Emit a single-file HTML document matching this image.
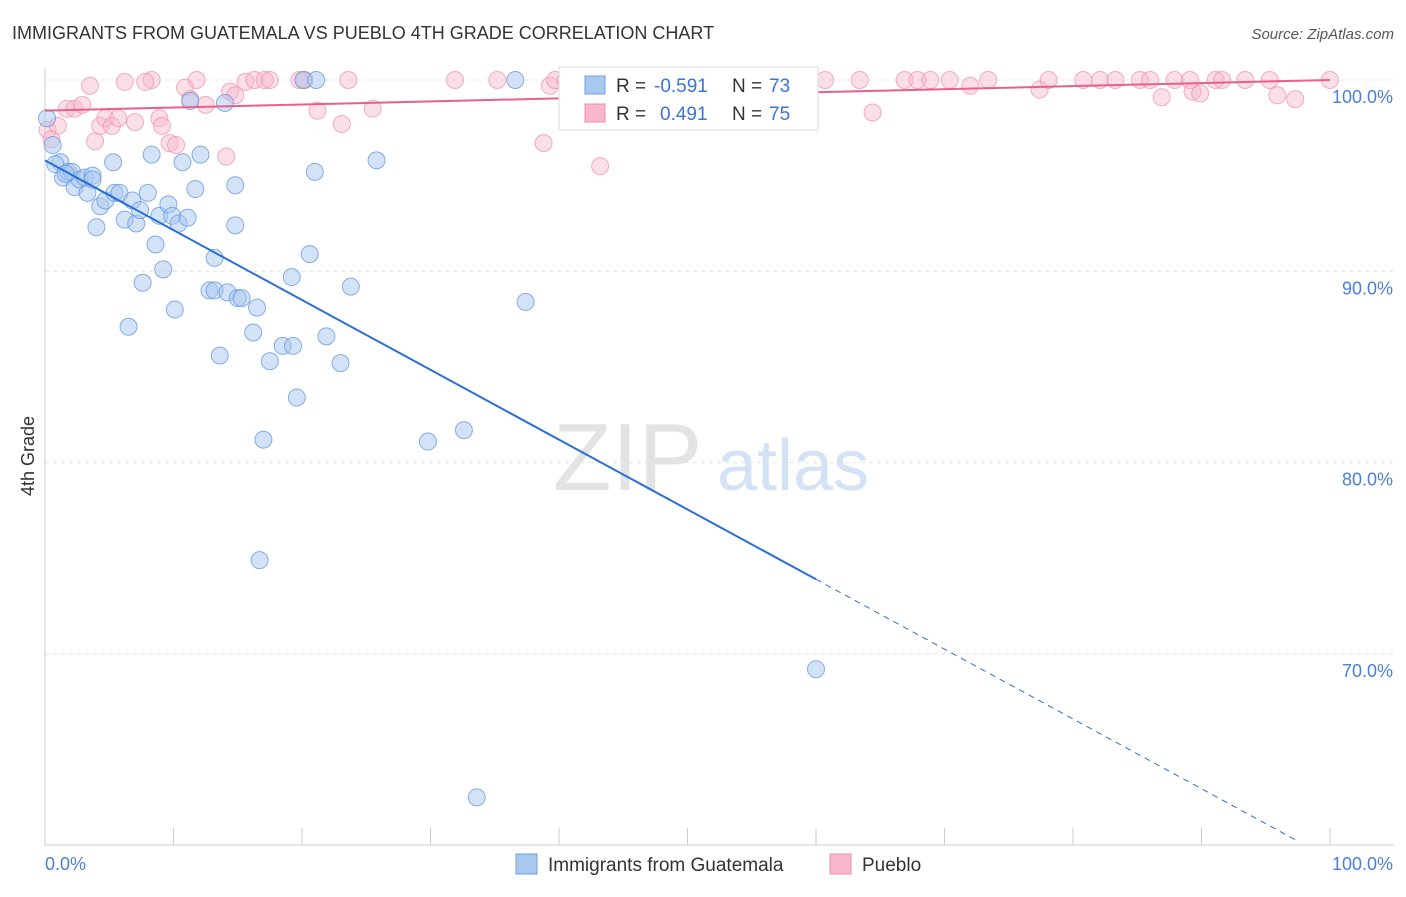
<!DOCTYPE html>
<html><head><meta charset="utf-8"><style>
body{margin:0;background:#fff;font-family:"Liberation Sans",sans-serif;}
svg text{font-family:"Liberation Sans",sans-serif;}
</style></head><body>
<svg id="chart" width="1406" height="892" xmlns="http://www.w3.org/2000/svg">
<text x="12" y="39" font-size="18" fill="#333">IMMIGRANTS FROM GUATEMALA VS PUEBLO 4TH GRADE CORRELATION CHART</text>
<text x="1394" y="39" font-size="15" fill="#555" text-anchor="end" font-style="italic">Source: ZipAtlas.com</text>
<text x="0" y="0" transform="translate(34,456) rotate(-90)" font-size="18" fill="#333" text-anchor="middle">4th Grade</text>
<g><text x="553" y="490" font-size="96" fill="#ddd" font-family="Liberation Serif" opacity="0.8">ZIP</text><text x="717" y="490" font-size="72" fill="#c9dbf3" opacity="0.8">atlas</text></g>
<g id="grid"></g><g id="axes"></g><g id="marks"></g>
<g>
<rect x="559" y="67" width="259" height="63" fill="#fff" stroke="#ddd"/>
<rect x="585" y="76" width="20" height="18" fill="#a8c8f0" stroke="#6fa0e0"/>
<text x="616" y="92" font-size="19" fill="#333">R = </text><text x="654" y="92" font-size="19" fill="#3b74d8">-0.591</text>
<text x="732" y="92" font-size="19" fill="#333">N = </text><text x="769" y="92" font-size="19" fill="#3b74d8">73</text>
<rect x="585" y="104" width="20" height="18" fill="#f7b8cc" stroke="#f08cab"/>
<text x="616" y="120" font-size="19" fill="#333">R = </text><text x="660" y="120" font-size="19" fill="#3b74d8">0.491</text>
<text x="732" y="120" font-size="19" fill="#333">N = </text><text x="769" y="120" font-size="19" fill="#3b74d8">75</text>
</g>
<g>
<rect x="516" y="854" width="21" height="20" fill="#a8c8f0" stroke="#6fa0e0"/>
<text x="548" y="871" font-size="19" fill="#333">Immigrants from Guatemala</text>
<rect x="830" y="854" width="21" height="20" fill="#f7b8cc" stroke="#f08cab"/>
<text x="862" y="871" font-size="19" fill="#333">Pueblo</text>
</g>
</svg>
<script>
const blueX=[0.16,0.6,1.2,1.4,1.8,2.1,2.3,2.7,3.1,3.3,3.7,4.0,4.3,4.7,5.3,5.4,5.8,6.2,6.5,6.8,7.1,7.4,7.6,8.0,8.3,8.6,8.9,9.2,9.6,9.9,10.1,10.4,10.7,11.1,11.3,11.7,12.1,12.8,13.2,13.2,13.6,14.0,14.2,14.8,14.8,15.0,15.3,16.2,16.5,16.7,17.0,17.5,18.5,19.2,19.3,19.6,20.1,20.6,21.0,21.1,21.9,23.0,23.8,25.8,29.8,32.6,33.6,36.6,37.4,60.0,0.8,1.6,3.7];
const blueY=[98.0,96.6,95.7,94.9,95.2,95.2,94.4,94.8,94.9,94.1,95.0,92.3,93.4,93.7,95.7,94.1,94.1,92.7,87.1,93.7,92.5,93.2,89.4,94.1,96.1,91.4,92.9,90.1,93.5,92.9,88.0,92.5,95.7,92.8,98.9,94.3,96.1,89.0,90.7,89.0,85.6,98.8,88.9,94.5,92.4,88.6,88.6,86.8,88.1,74.9,81.2,85.3,86.1,89.7,86.1,83.4,100,90.9,95.2,100,86.6,85.2,89.2,95.8,81.1,81.7,62.5,100,88.4,69.2,95.6,95.1,94.8];
const pinkX=[0.2,0.5,1.0,1.7,2.3,2.9,3.5,3.9,4.3,4.7,5.2,5.7,6.2,7.0,8.3,8.9,9.1,9.7,10.2,10.9,11.3,11.8,12.5,14.1,14.4,14.8,15.6,16.3,17.1,17.5,19.8,20.2,21.2,23.1,23.6,25.5,31.9,35.2,38.8,39.3,43.2,46.3,47.1,59.5,60.7,63.4,64.4,66.9,67.9,68.9,70.4,72.0,73.4,77.4,78.1,80.8,82.1,83.3,85.2,86.0,86.9,87.9,89.1,89.3,89.9,91.1,91.6,93.4,95.3,95.9,97.3,100,39.7,40.5,7.8];
const pinkY=[97.4,96.9,97.6,98.5,98.5,98.7,99.7,96.8,97.6,98.0,97.6,98.0,99.9,97.8,100,98.0,97.6,96.7,96.6,99.6,99.0,100,98.7,96.0,99.4,99.2,99.9,100,100,100,100,100,98.4,97.7,100,98.5,100,100,96.7,99.7,95.5,100,100,100,100,100,98.3,100,100,100,100,99.7,100,99.5,100,100,100,100,100,100,99.1,100,100,99.4,99.3,100,100,100,100,99.2,99.0,100,100,100,99.9];
const blueTrend=[95.8,-0.365]; const pinkTrend=[98.4,0.016];
const yTicks=[100,90,80,70]; const yTickLabels=["100.0%","90.0%","80.0%","70.0%"];
const xTicks=[0,10,20,30,40,50,60,70,80,90,100];
const X=v=>45+v*12.85, Y=v=>80+(100-v)*19.13;
const NS="http://www.w3.org/2000/svg";
function mk(p,t,a){const e=document.createElementNS(NS,t);for(const k in a)e.setAttribute(k,a[k]);p.appendChild(e);return e;}
const grid=document.getElementById('grid'),axes=document.getElementById('axes'),marks=document.getElementById('marks');
yTicks.forEach((t,i)=>{
 const l=mk(grid,'line',{x1:45,x2:1394,y1:Y(t),y2:Y(t),stroke:'#e4e4e4','stroke-dasharray':'4,4'});
 
 
 const tx=mk(grid,'text',{x:1393,y:Y(t)+23,'font-size':18,fill:'#4a7fd8','text-anchor':'end'});tx.textContent=yTickLabels[i];
 
 
});
mk(axes,'line',{x1:45,x2:45,y1:68,y2:845,stroke:'#ccc'});
mk(axes,'line',{x1:45,x2:1394,y1:845,y2:845,stroke:'#ccc'});
xTicks.forEach(t=>{const l=mk(axes,'line',{x1:X(t),x2:X(t),y1:828,y2:845,stroke:'#ccc'});
 
 });
let a=mk(axes,'text',{x:45,y:870,'font-size':18,fill:'#4a7fd8'});a.textContent='0.0%';


a=mk(axes,'text',{x:1393,y:870,'font-size':18,fill:'#4a7fd8','text-anchor':'end'});a.textContent='100.0%';


pinkX.forEach((x,i)=>{const c=mk(marks,'circle',{cx:X(x),cy:Y(pinkY[i]),r:8.5,fill:'rgba(247,184,204,0.45)',stroke:'rgba(240,140,171,0.7)'});
 
 });
blueX.forEach((x,i)=>{const c=mk(marks,'circle',{cx:X(x),cy:Y(blueY[i]),r:8.5,fill:'rgba(168,200,240,0.5)',stroke:'rgba(100,150,220,0.75)'});
 
 });
const bt=x=>blueTrend[0]+blueTrend[1]*x, pt=x=>pinkTrend[0]+pinkTrend[1]*x;
let ln=mk(marks,'line',{x1:X(0),y1:Y(bt(0)),x2:X(60),y2:Y(bt(60)),stroke:'#2a6fd8','stroke-width':2});


ln=mk(marks,'line',{x1:X(60),y1:Y(bt(60)),x2:X(97.6),y2:Y(bt(97.6)),stroke:'#2a6fd8','stroke-width':1,'stroke-dasharray':'6,5'});


ln=mk(marks,'line',{x1:X(0),y1:Y(pt(0)),x2:X(100),y2:Y(pt(100)),stroke:'#e8608a','stroke-width':2});


</script>
</body></html>
